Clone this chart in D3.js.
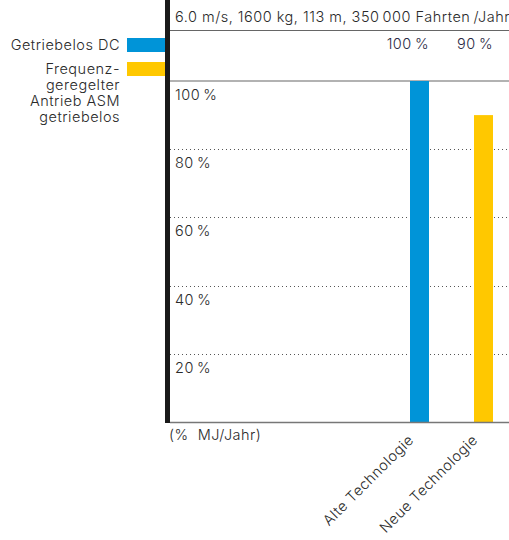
<!DOCTYPE html>
<html>
<head>
<meta charset="utf-8">
<script src="https://cdn.jsdelivr.net/npm/d3@7"></script>
<style>
  body { margin: 0; background: #fff; }
  svg text { font-family: Inter, "Liberation Sans", Arial, sans-serif; font-weight: 300; fill: #2a2a2a; letter-spacing: 0.5px; }
</style>
</head>
<body>
<svg id="chart"></svg>
<script>
const width = 509, height = 540;

// data
const categories = ["Alte Technologie", "Neue Technologie"];
const values = [100, 90];
const colors = ["#0094d8", "#ffc800"];
const valueLabels = ["100 %", "90 %"];
const yTicks = [20, 40, 60, 80, 100];
const legendNames = [["Getriebelos DC"], ["Frequenz-", "geregelter", "Antrieb ASM", "getriebelos"]];
const header = "6.0 m/s, 1600 kg, 113 m, 350\u2009000 Fahrten\u2009/Jahr";
const unitLabel = "(%  MJ/Jahr)";

const svg = d3.select("#chart")
  .attr("width", width)
  .attr("height", height);

const plotLeft = 170, plotTop = 81, plotBottom = 422;
const fs = "14.5px";

const x = d3.scalePoint()
  .domain(categories)
  .range([419.5, 483.5]);
const barW = 19;

const y = d3.scaleLinear()
  .domain([0, 100])
  .range([plotBottom, plotTop]);

// header text + lines
svg.append("text")
  .attr("x", 175)
  .attr("y", 22)
  .style("font-size", fs)
  .text(header);

svg.append("line")
  .attr("x1", plotLeft).attr("x2", width)
  .attr("y1", 30.5).attr("y2", 30.5)
  .attr("stroke", "#666").attr("stroke-width", 1);

svg.append("line")
  .attr("x1", plotLeft).attr("x2", width)
  .attr("y1", plotTop).attr("y2", plotTop)
  .attr("stroke", "#666").attr("stroke-width", 1.2);

// dotted grid
svg.selectAll(".grid")
  .data(yTicks.filter(d => d < 100))
  .enter().append("line")
  .attr("class", "grid")
  .attr("x1", plotLeft).attr("x2", width)
  .attr("y1", d => Math.round(y(d)) + 0.5)
  .attr("y2", d => Math.round(y(d)) + 0.5)
  .attr("stroke", "#555")
  .attr("stroke-width", 1)
  .attr("stroke-dasharray", "1,3");

// y labels
svg.selectAll(".ylab")
  .data(yTicks)
  .enter().append("text")
  .attr("class", "ylab")
  .attr("x", 175)
  .attr("y", d => y(d) + 19)
  .style("font-size", fs)
  .text(d => d + "\u2009%");

// bars
svg.selectAll(".bar")
  .data(values)
  .enter().append("rect")
  .attr("class", "bar")
  .attr("x", (d, i) => x(categories[i]) - barW / 2)
  .attr("width", barW)
  .attr("y", d => y(d))
  .attr("height", d => plotBottom - y(d))
  .attr("fill", (d, i) => colors[i]);

// value labels in the header band
svg.selectAll(".vlab")
  .data(valueLabels)
  .enter().append("text")
  .attr("class", "vlab")
  .attr("x", (d, i) => x(categories[i]) + barW / 2)
  .attr("y", 49)
  .attr("text-anchor", "end")
  .style("font-size", fs)
  .style("fill", "#2a2a44")
  .text(d => d.replace(" ", "\u2009"));

// baseline
svg.append("line")
  .attr("x1", plotLeft).attr("x2", width)
  .attr("y1", plotBottom + 0.5).attr("y2", plotBottom + 0.5)
  .attr("stroke", "#777").attr("stroke-width", 1.5);

// thick black axis
svg.append("rect")
  .attr("x", 165).attr("y", 0)
  .attr("width", 5).attr("height", plotBottom + 1)
  .attr("fill", "#1a1a1a");

svg.append("text")
  .attr("x", 169)
  .attr("y", 440)
  .style("font-size", fs)
  .style("white-space", "pre")
  .text(unitLabel);

// x labels rotated
svg.selectAll(".xlab")
  .data(categories)
  .enter().append("text")
  .attr("class", "xlab")
  .attr("text-anchor", "end")
  .attr("transform", d => `translate(${x(d) - 5},${plotBottom + 19}) rotate(-45)`)
  .style("font-size", fs)
  .text(d => d);

// legend
const legendY = [38, 62];
legendNames.forEach((lines, i) => {
  svg.append("rect")
    .attr("x", 127).attr("y", legendY[i])
    .attr("width", 38).attr("height", 14)
    .attr("fill", colors[i]);
  lines.forEach((t, j) => {
    svg.append("text")
      .attr("x", 120)
      .attr("y", legendY[i] + 12 + j * 16)
      .attr("text-anchor", "end")
      .style("font-size", fs)
      .text(t);
  });
});
</script>
</body>
</html>
